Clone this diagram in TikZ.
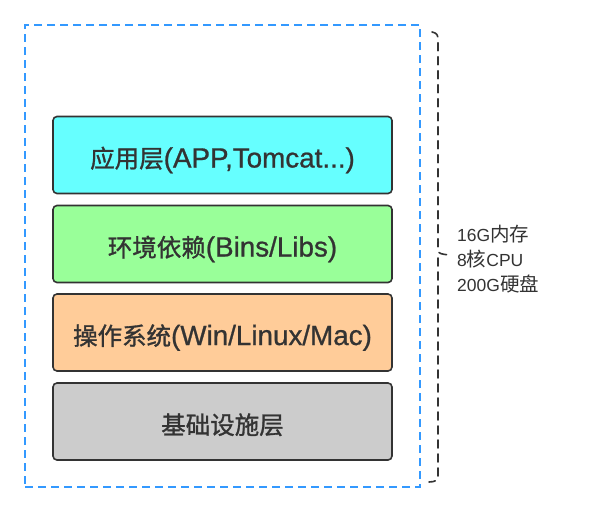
\documentclass[tikz,border=0pt]{standalone}
\usepackage{fontspec}
\setmainfont{Liberation Sans}
\newfontfamily\zhbold[FakeBold=1.2]{Noto Sans CJK SC}
\newfontfamily\zhplain{Noto Sans CJK SC}
\newfontfamily\labold[FakeBold=0.8]{Liberation Sans}
\newcommand\boxzh[1]{{\zhbold\fontsize{24.5pt}{28pt}\selectfont #1}}
\newcommand\boxla[1]{{\labold\fontsize{27.8pt}{28pt}\selectfont #1}}
\newcommand\speczh[1]{{\zhplain\fontsize{19.5pt}{25pt}\selectfont #1}}
\definecolor{bluedash}{RGB}{51,153,255}
\definecolor{edge}{RGB}{51,51,51}
\definecolor{appc}{RGB}{102,255,255}
\definecolor{envc}{RGB}{153,255,153}
\definecolor{osc}{RGB}{255,204,153}
\definecolor{infc}{RGB}{204,204,204}
\begin{document}
\begin{tikzpicture}[x=1pt,y=-1pt,
  layer/.style={draw=edge, line width=1.6pt, rounded corners=4pt, minimum width=339pt, minimum height=77pt, inner sep=0pt, text=edge, text height=25pt, text depth=0pt, font=\fontsize{24.5pt}{28pt}\selectfont},
  outer/.style={draw=bluedash, line width=1.8pt, dash pattern=on 8pt off 5pt},
  bracket/.style={draw=edge, line width=1.6pt, dash pattern=on 8pt off 6pt, line cap=round},
  spec/.style={text=edge, font=\fontsize{17.5pt}{25pt}\selectfont, align=left, inner sep=0pt, anchor=west}]
\useasboundingbox (0,0) rectangle (590,512);
\node[outer, minimum width=395pt, minimum height=462pt, inner sep=0pt] (box) at (222.5,256) {};
\node[layer, fill=appc] (app) at (222.5,155) {\boxzh{应用层}\boxla{(APP,Tomcat...)}};
\node[layer, fill=envc] (env) at (222.5,244) {\boxzh{环境依赖}\boxla{(Bins/Libs)}};
\node[layer, fill=osc] (os) at (222.5,332.5) {\boxzh{操作系统}\boxla{(Win/Linux/Mac)}};
\node[layer, fill=infc] (inf) at (222.5,421.5) {\boxzh{基础设施层}};
\coordinate (btop) at (432,32);
\coordinate (bbot) at (429,482);
\coordinate (tip) at (449,255);
\draw[bracket] (btop) .. controls (437,33) and (438,35) .. (438,40) -- (438,250) .. controls (438,254) and (442,254) .. (tip);
\draw[bracket] (438,258) -- (438,477) .. controls (438,480) and (435,482) .. (bbot);
\node[spec] (specs) at (457,259) {16G\speczh{内存}\\8\speczh{核}CPU\\200G\speczh{硬盘}};
\end{tikzpicture}
\end{document}
